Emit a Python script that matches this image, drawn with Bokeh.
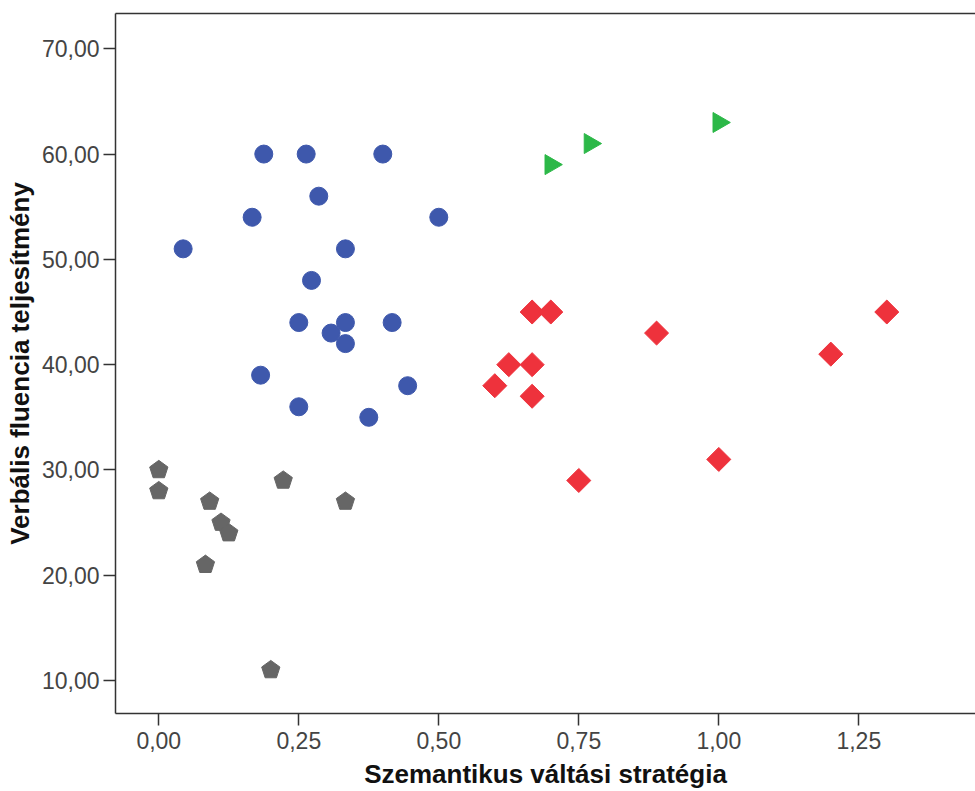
import math
from bokeh.plotting import figure
from bokeh.models import Range1d, FixedTicker, CustomJSTickFormatter, LinearAxis
from bokeh.embed import file_html
from bokeh.resources import INLINE

# ---- data ----
blue_x = [0.0435, 0.1667, 0.1875, 0.2632, 0.4, 0.2857, 0.5, 0.3333, 0.2727,
          0.25, 0.3333, 0.4167, 0.3077, 0.3333, 0.1818, 0.4444, 0.25, 0.375]
blue_y = [51, 54, 60, 60, 60, 56, 54, 51, 48, 44, 44, 44, 43, 42, 39, 38, 36, 35]

gray_x = [0.0, 0.0, 0.0909, 0.2222, 0.3333, 0.1111, 0.125, 0.0833, 0.2]
gray_y = [30, 28, 27, 29, 27, 25, 24, 21, 11]

red_x = [0.6667, 0.7, 0.625, 0.6667, 0.6, 0.6667, 0.75, 0.8889, 1.0, 1.2, 1.3]
red_y = [45, 45, 40, 40, 38, 37, 29, 43, 31, 41, 45]

green_x = [0.7, 0.77, 1.0]
green_y = [59, 61, 63]

x_ticks = [0.0, 0.25, 0.5, 0.75, 1.0, 1.25]
y_ticks = [10, 20, 30, 40, 50, 60, 70]

x_label = "Szemantikus váltási stratégia"
y_label = "Verbális fluencia teljesítmény"

AX = "#333333"

# ---- figure ----
p = figure(width=975, height=791, output_backend="svg", toolbar_location=None,
           x_range=Range1d(-0.0773, 1.4584), y_range=Range1d(6.87, 73.35),
           min_border_left=115, min_border_top=13, min_border_right=0,
           min_border_bottom=78)
p.xgrid.visible = False
p.ygrid.visible = False
p.outline_line_color = None
p.background_fill_color = "white"
p.border_fill_color = "white"

xax = p.below[0]
yax = p.left[0]

fmt = CustomJSTickFormatter(code="return tick.toFixed(2).replace('.', ',');")
for ax, ticks in ((xax, x_ticks), (yax, y_ticks)):
    ax.ticker = FixedTicker(ticks=ticks)
    ax.formatter = fmt
    ax.minor_tick_line_color = None
    ax.major_tick_in = 0
    ax.major_tick_out = 12
    ax.major_tick_line_color = AX
    ax.major_tick_line_width = 1.5
    ax.axis_line_color = AX
    ax.axis_line_width = 1.5
    ax.major_label_text_font = "Liberation Sans"
    ax.major_label_text_font_size = "23px"
    ax.major_label_text_color = "#444444"
    ax.axis_label_text_font = "Liberation Sans"
    ax.axis_label_text_font_style = "bold"
    ax.axis_label_text_font_size = "26px"
    ax.axis_label_text_color = "#111111"

xax.axis_label = x_label
yax.axis_label = y_label
xax.major_label_standoff = 6
yax.major_label_standoff = 4
xax.axis_label_standoff = 7
yax.axis_label_standoff = 4

# top border line only (the right side is cut off in the original)
top = LinearAxis(ticker=FixedTicker(ticks=[]), major_label_text_font_size="0px",
                 major_tick_line_color=None, minor_tick_line_color=None,
                 major_tick_out=0, major_label_standoff=0,
                 axis_line_color=AX, axis_line_width=1.5)
p.add_layout(top, "above")

p.scatter(blue_x, blue_y, marker="circle", size=18, fill_color="#3E58AC",
          line_color="#3E58AC")
p.ngon(x=gray_x, y=gray_y, radius=9.6, radius_units="screen", n=5,
       fill_color="#666666", line_color="#666666")
p.scatter(red_x, red_y, marker="square", size=17, angle=math.pi / 4,
          fill_color="#EE323C", line_color="#EE323C")
p.scatter(green_x, green_y, marker="triangle", size=20, angle=-math.pi / 2,
          fill_color="#2CB848", line_color="#2CB848")

open("out.html", "w").write(file_html(p, INLINE))
